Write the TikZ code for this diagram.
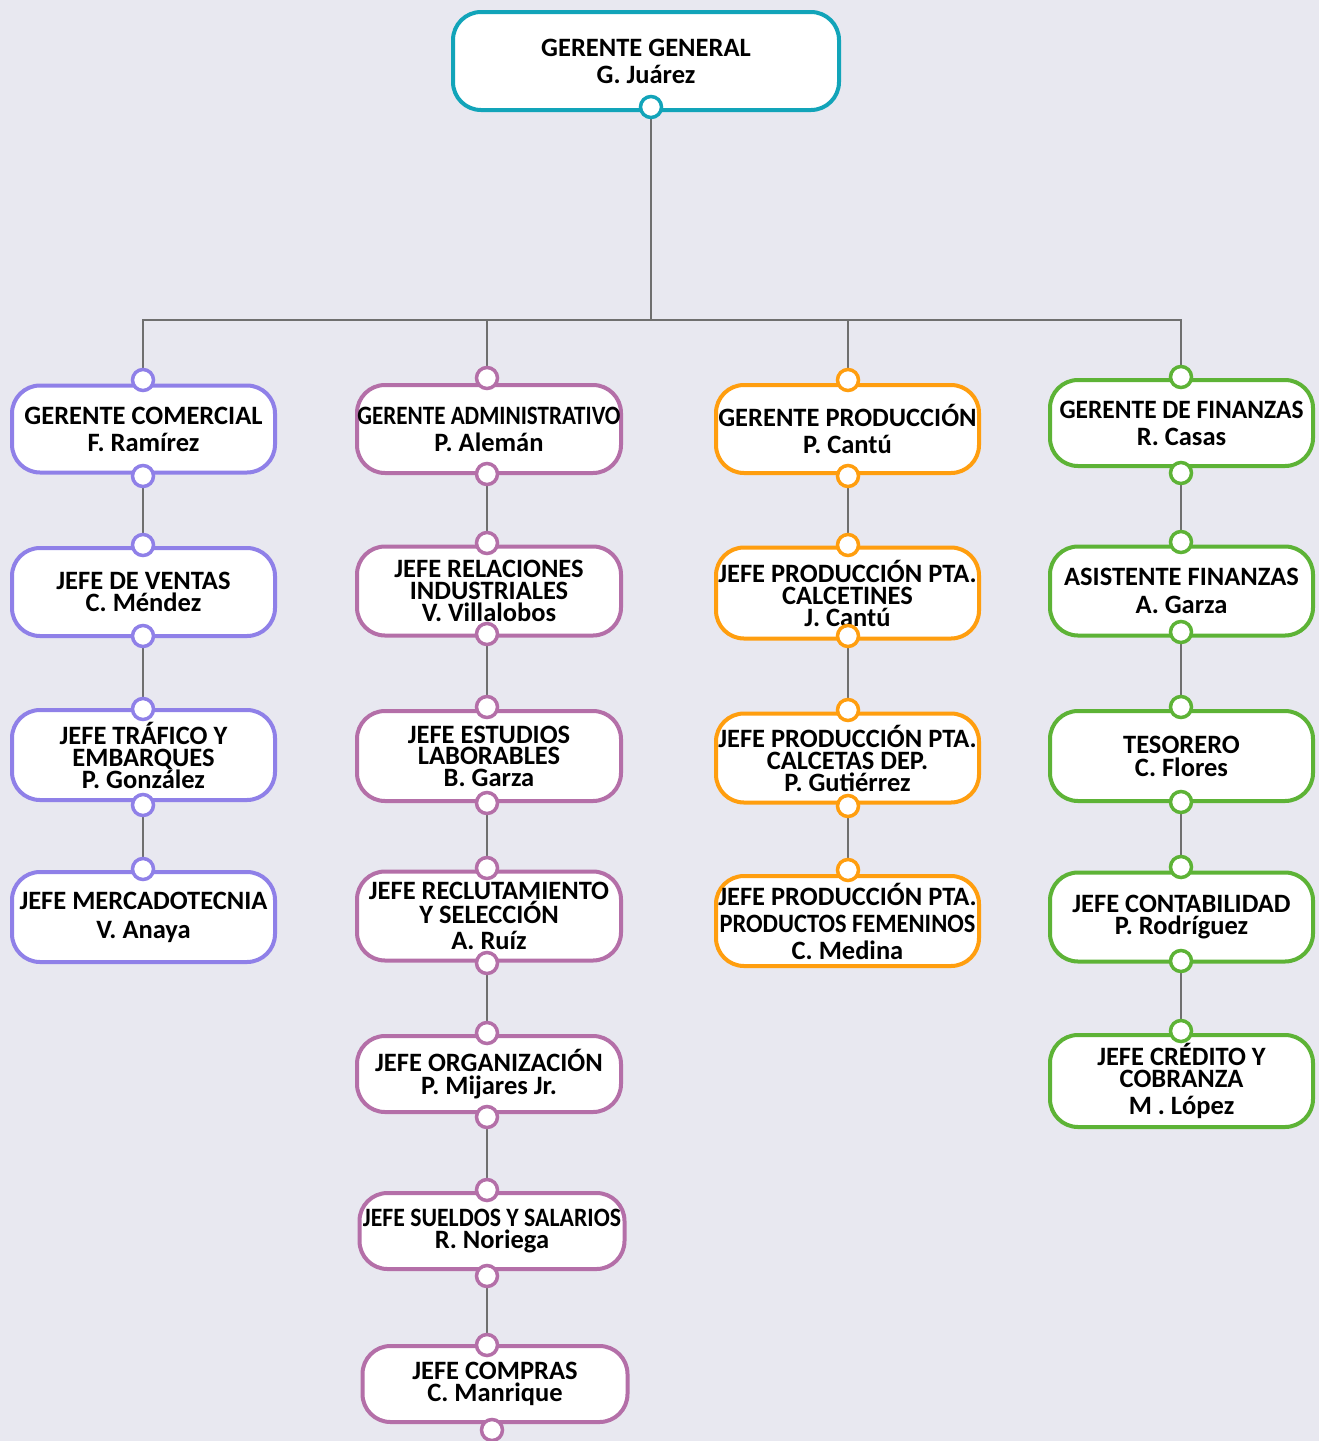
\documentclass[tikz,border=0pt]{standalone}
\usepackage{fontspec}
\usepackage{graphicx}
\setmainfont{Carlito}
\definecolor{bgc}{HTML}{E8E8F0}
\definecolor{teal}{HTML}{12A4B9}
\definecolor{cpur}{HTML}{8F80E8}
\definecolor{cmau}{HTML}{B46FA8}
\definecolor{corg}{HTML}{FF9E0F}
\definecolor{cgrn}{HTML}{5DB336}
\definecolor{lgray}{HTML}{6F6F6F}
\pgfdeclarelayer{back}
\pgfsetlayers{back,main}
\tikzset{
  box/.style={draw=#1, line width=4pt, rounded corners=28pt, fill=white,
    align=center, inner sep=0pt, minimum width=263pt, text=black},
  ls/.style={font=\bfseries\fontsize{26.5}{#1}\selectfont},
  dot/.style={circle, draw=#1, fill=white, line width=3.5pt, minimum size=21pt, inner sep=0pt},
  conn/.style={draw=lgray, line width=2.2pt},
}
\newcommand\sq[2]{\resizebox{#1pt}{\height}{#2}}
\begin{document}
\begin{tikzpicture}[x=1pt,y=-1pt]
\begin{pgfonlayer}{back}
\fill[bgc] (0,0) rectangle (1319,1441);
\end{pgfonlayer}
\useasboundingbox (0,0) rectangle (1319,1441);
\coordinate (bus) at (0,320);
% top
\node[box=teal, ls=27, minimum width=386pt, minimum height=98pt] (g) at (646,61) {GERENTE GENERAL\\G. Juárez};
% column 1
\node[box=cpur, ls=27, minimum height=87pt] (a1) at (143.5,429) {GERENTE COMERCIAL\\F. Ramírez};
\node[box=cpur, ls=22, minimum height=88pt] (a2) at (143.5,592) {JEFE DE VENTAS\\C. Méndez};
\node[box=cpur, ls=22, minimum height=90pt] (a3) at (143.5,755) {JEFE TRÁFICO Y\\EMBARQUES\\P. González};
\node[box=cpur, ls=29, minimum height=90pt] (a4) at (143.5,917) {JEFE MERCADOTECNIA\\V. Anaya};
% column 2
\node[box=cmau, ls=27, minimum width=264pt, minimum height=88pt] (b1) at (489,429) {\sq{263}{GERENTE ADMINISTRATIVO}\\P. Alemán};
\node[box=cmau, ls=22, minimum width=264pt, minimum height=89pt] (b2) at (489,591) {JEFE RELACIONES\\INDUSTRIALES\\V. Villalobos};
\node[box=cmau, ls=21.5, minimum width=264pt, minimum height=90pt] (b3) at (489,756) {JEFE ESTUDIOS\\LABORABLES\\B. Garza};
\node[box=cmau, ls=22, minimum width=264pt, minimum height=89pt] (b4) at (489,916) {JEFE RECLUTAMIENTO\\Y SELECCIÓN\\[4pt]A. Ruíz};
\node[box=cmau, ls=23, minimum width=264pt, minimum height=76pt] (b5) at (489,1074) {JEFE ORGANIZACIÓN\\P. Mijares Jr.};
\node[box=cmau, ls=22, minimum width=265pt, minimum height=76pt] (b6) at (492,1231) {\sq{258}{JEFE SUELDOS Y SALARIOS}\\R. Noriega};
\node[box=cmau, ls=22, minimum width=265pt, minimum height=76pt] (b7) at (495,1384) {JEFE COMPRAS\\C. Manrique};
% column 3
\node[box=corg, ls=27, minimum height=88pt] (c1) at (847.5,429) {GERENTE PRODUCCIÓN\\P. Cantú};
\node[box=corg, ls=22, minimum height=91pt] (c2) at (847.5,593) {JEFE PRODUCCIÓN PTA.\\CALCETINES\\J. Cantú};
\node[box=corg, ls=22, minimum height=89pt] (c3) at (847.5,758) {JEFE PRODUCCIÓN PTA.\\CALCETAS DEP.\\P. Gutiérrez};
\node[box=corg, ls=27, minimum height=90pt] (c4) at (847.5,921) {JEFE PRODUCCIÓN PTA.\\\sq{256}{PRODUCTOS FEMENINOS}\\C. Medina};
% column 4
\node[box=cgrn, ls=27, minimum height=86pt] (d1) at (1181.5,423) {\sq{244}{GERENTE DE FINANZAS}\\R. Casas};
\node[box=cgrn, ls=28, minimum height=89pt] (d2) at (1181.5,591) {ASISTENTE FINANZAS\\A. Garza};
\node[box=cgrn, ls=23, minimum height=90pt] (d3) at (1181.5,756) {TESORERO\\C. Flores};
\node[box=cgrn, ls=22, minimum height=89pt] (d4) at (1181.5,917) {JEFE CONTABILIDAD\\P. Rodríguez};
\node[box=cgrn, ls=22, minimum height=92pt] (d5) at (1181.5,1081) {JEFE CRÉDITO Y\\COBRANZA\\[5pt]M . López};
% dots
\node[dot=teal] (gb) at (651,107) {};
\node[dot=cpur] (a1t) at (143,380) {};
\node[dot=cpur] (a1b) at (143,476) {};
\node[dot=cpur] (a2t) at (143,545) {};
\node[dot=cpur] (a2b) at (143,636) {};
\node[dot=cpur] (a3t) at (143,709) {};
\node[dot=cpur] (a3b) at (143,805) {};
\node[dot=cpur] (a4t) at (143,869) {};
\node[dot=cmau] (b1t) at (487,378) {};
\node[dot=cmau] (b1b) at (487,474) {};
\node[dot=cmau] (b2t) at (487,543) {};
\node[dot=cmau] (b2b) at (487,634) {};
\node[dot=cmau] (b3t) at (487,707) {};
\node[dot=cmau] (b3b) at (487,803) {};
\node[dot=cmau] (b4t) at (487,868) {};
\node[dot=cmau] (b4b) at (487,963) {};
\node[dot=cmau] (b5t) at (487,1033) {};
\node[dot=cmau] (b5b) at (487,1117) {};
\node[dot=cmau] (b6t) at (487,1190) {};
\node[dot=cmau] (b6b) at (487,1276) {};
\node[dot=cmau] (b7t) at (487,1345) {};
\node[dot=cmau] (b7b) at (492,1430) {};
\node[dot=corg] (c1t) at (848,380) {};
\node[dot=corg] (c1b) at (848,476) {};
\node[dot=corg] (c2t) at (848,545) {};
\node[dot=corg] (c2b) at (848,636) {};
\node[dot=corg] (c3t) at (848,710) {};
\node[dot=corg] (c3b) at (848,806) {};
\node[dot=corg] (c4t) at (848,870) {};
\node[dot=cgrn] (d1t) at (1181,377) {};
\node[dot=cgrn] (d1b) at (1181,473) {};
\node[dot=cgrn] (d2t) at (1181,542) {};
\node[dot=cgrn] (d2b) at (1181,632) {};
\node[dot=cgrn] (d3t) at (1181,707) {};
\node[dot=cgrn] (d3b) at (1181,802) {};
\node[dot=cgrn] (d4t) at (1181,867) {};
\node[dot=cgrn] (d4b) at (1181,961) {};
\node[dot=cgrn] (d5t) at (1181,1031) {};
% connectors
\begin{pgfonlayer}{back}
\draw[conn] (gb.center) -- (gb |- bus) -| (a1t.center);
\draw[conn] (gb |- bus) -| (b1t.center);
\draw[conn] (gb |- bus) -| (c1t.center);
\draw[conn] (gb |- bus) -| (d1t.center);
\draw[conn] (a1b.center) -- (a2t.center);
\draw[conn] (a2b.center) -- (a3t.center);
\draw[conn] (a3b.center) -- (a4t.center);
\draw[conn] (b1b.center) -- (b2t.center);
\draw[conn] (b2b.center) -- (b3t.center);
\draw[conn] (b3b.center) -- (b4t.center);
\draw[conn] (b4b.center) -- (b5t.center);
\draw[conn] (b5b.center) -- (b6t.center);
\draw[conn] (b6b.center) -- (b7t.center);
\draw[conn] (c1b.center) -- (c2t.center);
\draw[conn] (c2b.center) -- (c3t.center);
\draw[conn] (c3b.center) -- (c4t.center);
\draw[conn] (d1b.center) -- (d2t.center);
\draw[conn] (d2b.center) -- (d3t.center);
\draw[conn] (d3b.center) -- (d4t.center);
\draw[conn] (d4b.center) -- (d5t.center);
\end{pgfonlayer}
\end{tikzpicture}
\end{document}
